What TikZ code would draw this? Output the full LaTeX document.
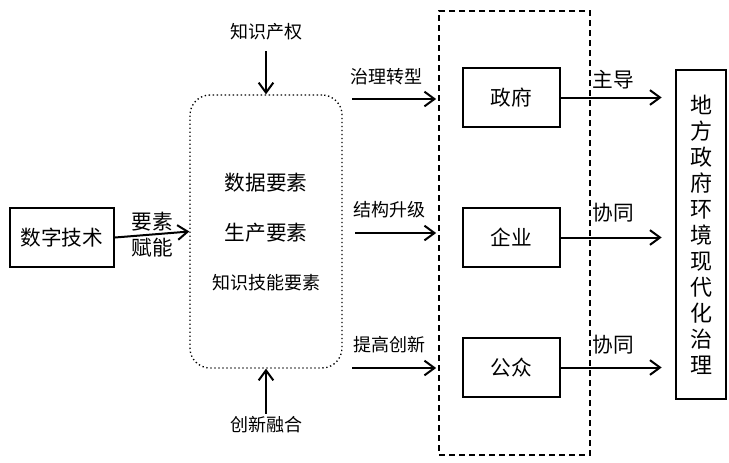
\documentclass[tikz,border=0pt]{standalone}
\usepackage{fontspec}
\setmainfont{Noto Sans CJK SC}
\usetikzlibrary{arrows.meta}

\begin{document}
\begin{tikzpicture}[x=0.75pt,y=-0.75pt]
        \tikzstyle{every node} = [inner sep=2pt]
        \tikzstyle{big} = [font=\fontsize{15.5pt}{18pt}\selectfont]
        \tikzstyle{small} = [font=\fontsize{13.5pt}{16pt}\selectfont]
        \tikzstyle{box} = [draw, line width=1.5pt, rectangle, big, minimum height=44.25pt]
        \tikzstyle{arr} = [line width=1.5pt, -{Straight Barb[length=7.5pt,width=11pt,line width=1.5pt]}]
        \useasboundingbox (0,0) rectangle (729,462);

        % left part
        \node[box, minimum width=78pt] (dt) at (62,237.5) {数字技术};
        \node[draw, dotted, line width=1pt, rounded corners=15pt,
              minimum width=114pt, minimum height=204.75pt] (elem) at (266,231.5) {};
        \node[big] (e1) at (266,183) {数据要素};
        \node[big] (e2) at (266,233) {生产要素};
        \node[small] (e3) at (266,283) {知识技能要素};
        \node[small] (ip) at (266,32) {知识产权};
        \node[small] (inno) at (266,425) {创新融合};

        \draw[arr] (dt.east) -- node[big, above] {要素} node[big, below] {赋能} (elem.west);
        \draw[arr, shorten <=6pt] (ip.south) -- (elem.north);
        \draw[arr] (inno.north) -- (elem.south);

        % actors
        \node[draw, dashed, line width=1.3pt, dash pattern=on 4.5pt off 3pt,
              minimum width=113.25pt, minimum height=333pt] (actors) at (514.5,233) {};
        \node[box, minimum width=72.75pt] (gov) at (511.5,97.5) {政府};
        \node[box, minimum width=72.75pt] (firm) at (511.5,237.5) {企业};
        \node[box, minimum width=72.75pt] (pub) at (511.5,367.5) {公众};

        \coordinate (a1) at (352,99);
        \coordinate (a2) at (355,233);
        \coordinate (a3) at (352,368);
        \node[small] (l1) at (386,77) {治理转型};
        \node[small] (l2) at (389,210) {结构升级};
        \node[small] (l3) at (389,345) {提高创新};
        \foreach \s in {a1, a2, a3}
            \draw[arr] (\s) -- ([xshift=-1.5pt]actors.west |- \s);

        % goal
        \node[draw, line width=1.5pt, minimum width=37.5pt, minimum height=246.75pt,
              align=center, font=\fontsize{16.5pt}{19.5pt}\selectfont] (goal) at (701,234.5)
              {地\\方\\政\\府\\环\\境\\现\\代\\化\\治\\理};

        \node[big] (m1) at (613,80) {主导};
        \node[big] (m2) at (613,213) {协同};
        \node[big] (m3) at (613,345) {协同};
        \foreach \from in {gov, firm, pub}
            \draw[arr, shorten >=10pt] (\from.east) -- (goal.west |- \from.east);
\end{tikzpicture}
\end{document}
